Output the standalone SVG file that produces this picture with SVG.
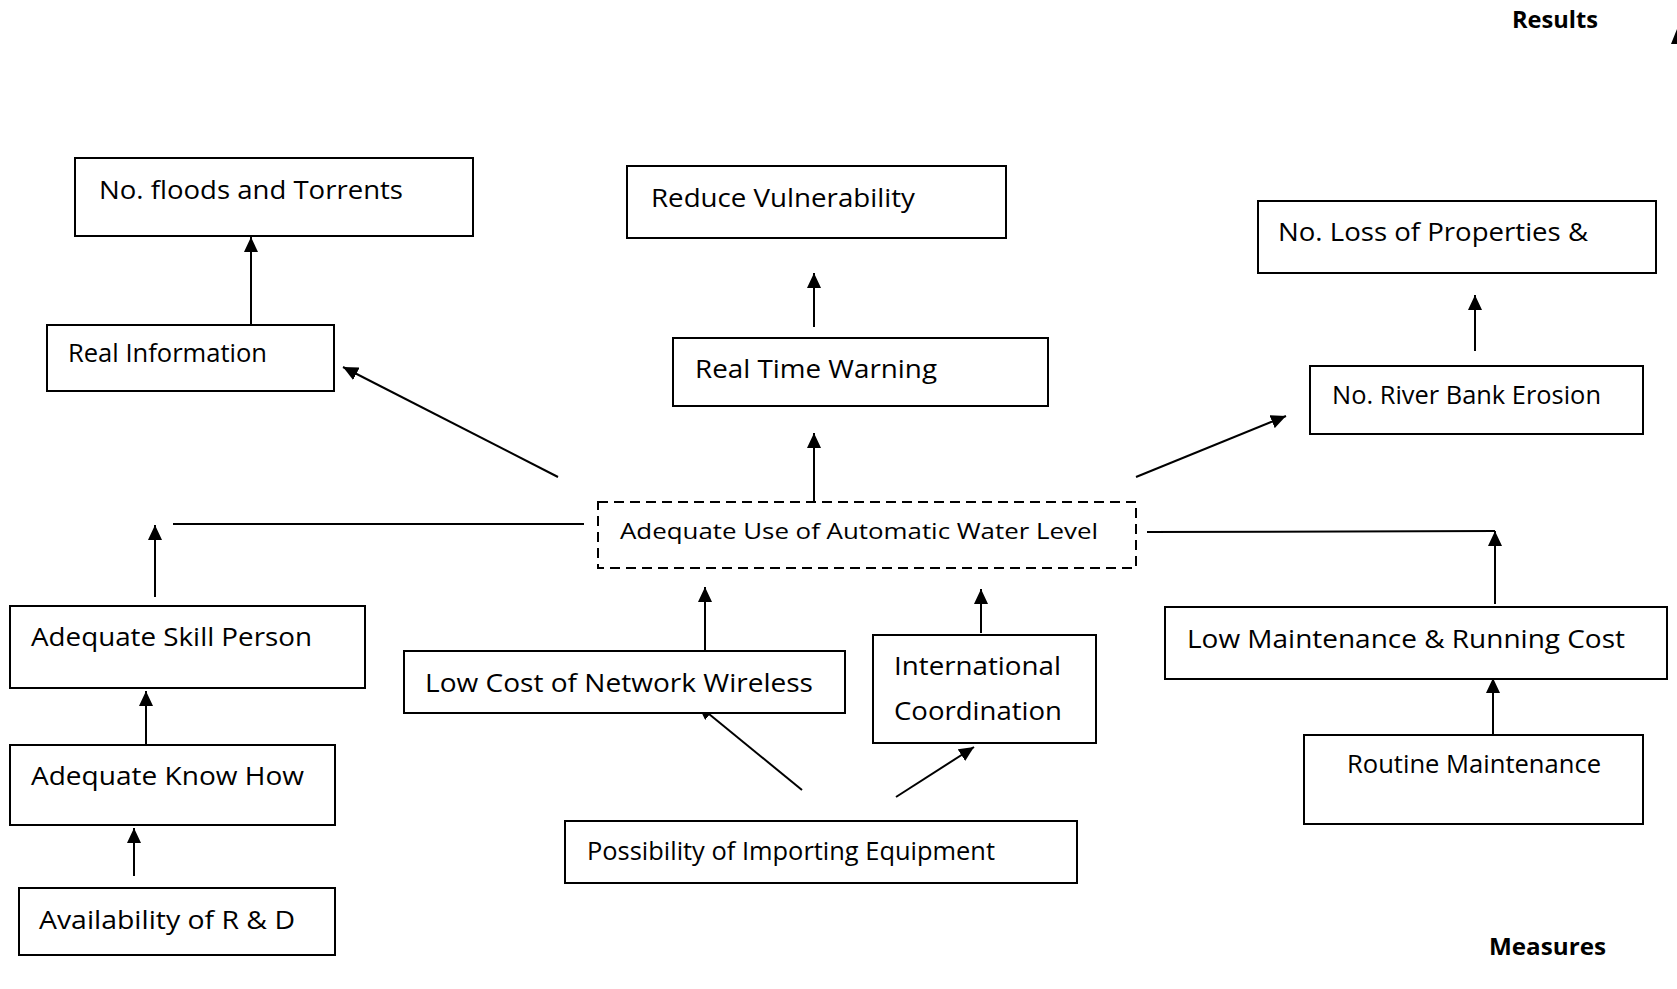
<svg xmlns="http://www.w3.org/2000/svg" width="1677" height="989" viewBox="0 0 1677 989">
  <style>
    .box { fill: #ffffff; stroke: #000000; stroke-width: 2; }
    .dash { fill: #ffffff; stroke: #000000; stroke-width: 2; stroke-dasharray: 10 6; }
    .lbl { font-family: "Open Sans", Lato, "Liberation Sans", sans-serif; font-size: 25px; fill: #000000; }
    .sm { font-size: 21.5px; }
    .head { font-family: "Open Sans", Lato, "Liberation Sans", sans-serif; font-size: 24px; font-weight: bold; fill: #000000; }
    .edge { fill: none; stroke: #000000; stroke-width: 2; }
    .arr { marker-end: url(#tip); }
  </style>
  <defs>
    <marker id="tip" markerUnits="userSpaceOnUse" markerWidth="16" markerHeight="14" refX="15" refY="7" orient="auto">
      <path d="M0,0 L15,7 L0,14 Z" fill="#000000"/>
    </marker>
  </defs>
  <rect width="1677" height="989" fill="#ffffff"/>

  <!-- corner headings -->
  <text class="head" x="1512" y="28" textLength="86" lengthAdjust="spacingAndGlyphs">Results</text>
  <polygon points="1671,44 1677,29 1677,44" fill="#000000"/>
  <text class="head" x="1489" y="955" textLength="117" lengthAdjust="spacingAndGlyphs">Measures</text>

  <!-- connectors -->
  <g id="connectors">
    <line class="edge arr" x1="251" y1="325" x2="251" y2="237"/>
    <line class="edge arr" x1="814" y1="327" x2="814" y2="273"/>
    <line class="edge arr" x1="1475" y1="351" x2="1475" y2="295"/>
    <line class="edge arr" x1="558" y1="477" x2="343" y2="367"/>
    <line class="edge arr" x1="814" y1="502" x2="814" y2="433"/>
    <line class="edge arr" x1="1136" y1="477" x2="1286" y2="416"/>
    <line class="edge" x1="173" y1="524" x2="584" y2="524"/>
    <line class="edge arr" x1="155" y1="597" x2="155" y2="525"/>
    <line class="edge" x1="1147" y1="532" x2="1495" y2="531"/>
    <line class="edge arr" x1="1495" y1="604" x2="1495" y2="531"/>
    <line class="edge arr" x1="705" y1="651" x2="705" y2="587"/>
    <line class="edge arr" x1="981" y1="633" x2="981" y2="589"/>
    <line class="edge arr" x1="802" y1="790" x2="698" y2="705"/>
    <line class="edge arr" x1="896" y1="797" x2="974" y2="747"/>
    <line class="edge arr" x1="146" y1="745" x2="146" y2="691"/>
    <line class="edge arr" x1="134" y1="876" x2="134" y2="828"/>
    <line class="edge arr" x1="1493" y1="736" x2="1493" y2="678"/>
  </g>

  <!-- result nodes -->
  <g id="floods">
    <rect class="box" x="75" y="158" width="398" height="78"/>
    <text class="lbl" x="99" y="199" textLength="304" lengthAdjust="spacingAndGlyphs">No. floods and Torrents</text>
  </g>
  <g id="reduce-vulnerability">
    <rect class="box" x="627" y="166" width="379" height="72"/>
    <text class="lbl" x="651" y="207" textLength="264" lengthAdjust="spacingAndGlyphs">Reduce Vulnerability</text>
  </g>
  <g id="loss-properties">
    <rect class="box" x="1258" y="201" width="398" height="72"/>
    <text class="lbl" x="1278" y="241" textLength="310" lengthAdjust="spacingAndGlyphs">No. Loss of Properties &amp;</text>
  </g>
  <g id="real-information">
    <rect class="box" x="47" y="325" width="287" height="66"/>
    <text class="lbl" x="68" y="362" textLength="199" lengthAdjust="spacingAndGlyphs">Real Information</text>
  </g>
  <g id="real-time-warning">
    <rect class="box" x="673" y="338" width="375" height="68"/>
    <text class="lbl" x="695" y="378" textLength="242" lengthAdjust="spacingAndGlyphs">Real Time Warning</text>
  </g>
  <g id="river-bank-erosion">
    <rect class="box" x="1310" y="366" width="333" height="68"/>
    <text class="lbl" x="1332" y="404" textLength="269" lengthAdjust="spacingAndGlyphs">No. River Bank Erosion</text>
  </g>

  <!-- central node -->
  <g id="water-level">
    <rect class="dash" x="598" y="502" width="538" height="66"/>
    <text class="lbl sm" x="620" y="539" textLength="478" lengthAdjust="spacingAndGlyphs">Adequate Use of Automatic Water Level</text>
  </g>

  <!-- measure nodes -->
  <g id="skill-person">
    <rect class="box" x="10" y="606" width="355" height="82"/>
    <text class="lbl" x="31" y="646" textLength="281" lengthAdjust="spacingAndGlyphs">Adequate Skill Person</text>
  </g>
  <g id="know-how">
    <rect class="box" x="10" y="745" width="325" height="80"/>
    <text class="lbl" x="31" y="785" textLength="273" lengthAdjust="spacingAndGlyphs">Adequate Know How</text>
  </g>
  <g id="r-and-d">
    <rect class="box" x="19" y="888" width="316" height="67"/>
    <text class="lbl" x="39" y="929" textLength="256" lengthAdjust="spacingAndGlyphs">Availability of R &amp; D</text>
  </g>
  <g id="network-wireless">
    <rect class="box" x="404" y="651" width="441" height="62"/>
    <text class="lbl" x="425" y="692" textLength="388" lengthAdjust="spacingAndGlyphs">Low Cost of Network Wireless</text>
  </g>
  <g id="international-coordination">
    <rect class="box" x="873" y="635" width="223" height="108"/>
    <text class="lbl" x="894" y="675" textLength="167" lengthAdjust="spacingAndGlyphs">International</text>
    <text class="lbl" x="894" y="720" textLength="168" lengthAdjust="spacingAndGlyphs">Coordination</text>
  </g>
  <g id="importing-equipment">
    <rect class="box" x="565" y="821" width="512" height="62"/>
    <text class="lbl" x="587" y="860" textLength="408" lengthAdjust="spacingAndGlyphs">Possibility of Importing Equipment</text>
  </g>
  <g id="running-cost">
    <rect class="box" x="1165" y="607" width="502" height="72"/>
    <text class="lbl" x="1187" y="648" textLength="438" lengthAdjust="spacingAndGlyphs">Low Maintenance &amp; Running Cost</text>
  </g>
  <g id="routine-maintenance">
    <rect class="box" x="1304" y="735" width="339" height="89"/>
    <text class="lbl" x="1347" y="773" textLength="254" lengthAdjust="spacingAndGlyphs">Routine Maintenance</text>
  </g>
</svg>
